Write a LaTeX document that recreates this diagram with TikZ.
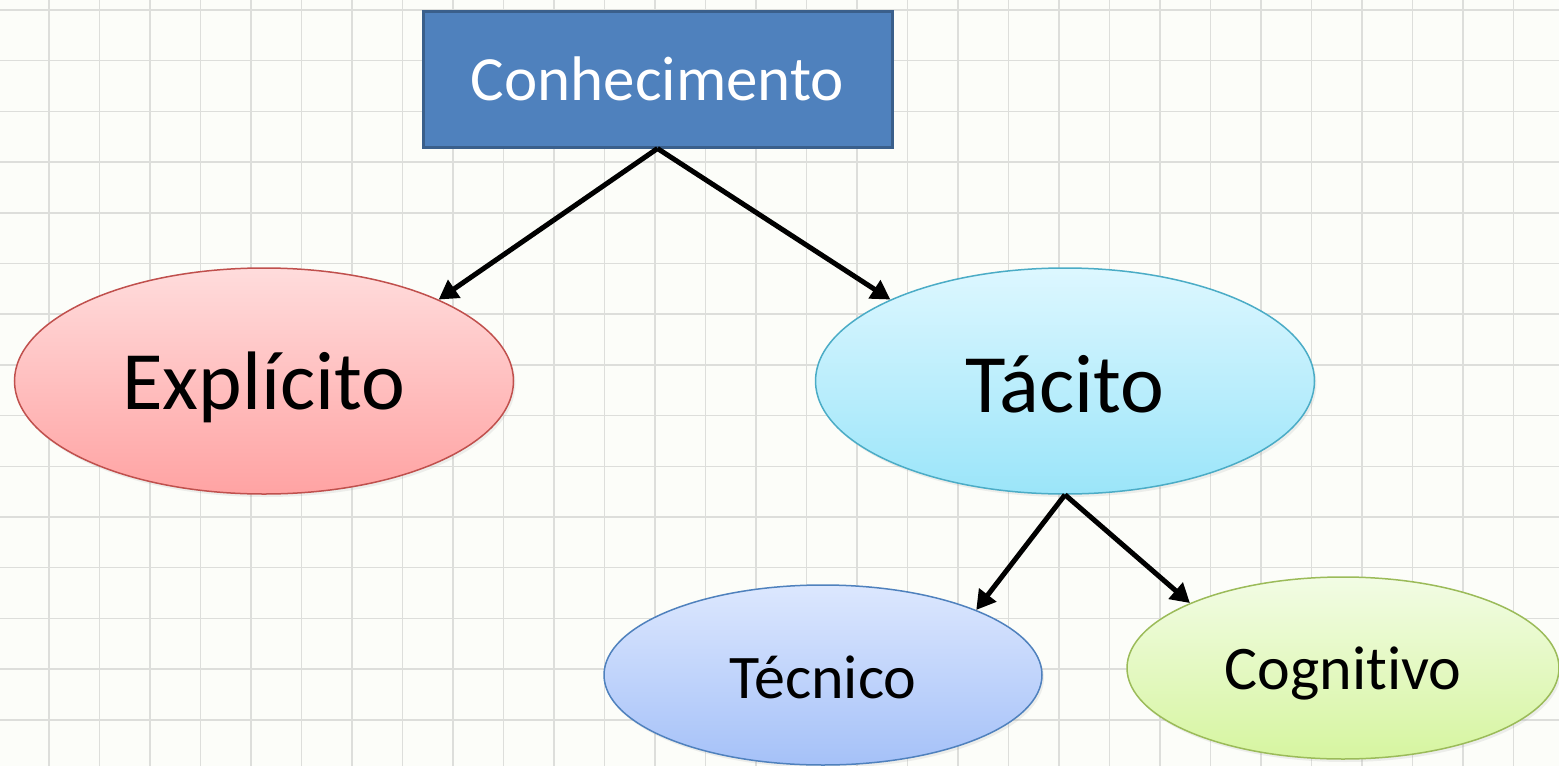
\documentclass[tikz,border=0pt]{standalone}
\usepackage{fontspec}
\setmainfont{Carlito}[Ligatures=NoCommon]
\usepackage{tikz}
\usetikzlibrary{shapes,shadows,arrows.meta}

\definecolor{paper}{HTML}{FCFDF9}
\definecolor{gridline}{HTML}{DDDEDB}
\definecolor{boxblue}{HTML}{4F81BD}
\definecolor{boxedge}{HTML}{3A5F8B}
\definecolor{redtop}{HTML}{FFDCDC}
\definecolor{redbot}{HTML}{FFA3A3}
\definecolor{rededge}{HTML}{C0504D}
\definecolor{cyantop}{HTML}{DDF7FF}
\definecolor{cyanbot}{HTML}{9BE5F9}
\definecolor{cyanedge}{HTML}{4BACC6}
\definecolor{bluetop}{HTML}{DCE7FE}
\definecolor{bluebot}{HTML}{A5C1F8}
\definecolor{blueedge}{HTML}{4F81BD}
\definecolor{greentop}{HTML}{F2FCE4}
\definecolor{greenbot}{HTML}{D6F5A0}
\definecolor{greenedge}{HTML}{9BBB59}

\newcommand{\lowered}[2]{\raisebox{-#1}[\height][\depth]{#2}}

\begin{document}
\begin{tikzpicture}[x=1pt,y=-1pt,
      every node/.style={inner sep=0pt},
      root/.style={rectangle,draw=boxedge,line width=3pt,fill=boxblue,
        minimum width=469pt,minimum height=136pt,text=white,
        font=\fontsize{63}{70}\selectfont},
      kind/.style={ellipse,line width=1.5pt,minimum width=499pt,minimum height=226pt,
        font=\fontsize{83}{90}\selectfont,
        drop shadow={opacity=0.12,shadow xshift=2pt,shadow yshift=-3pt}},
      sub/.style={ellipse,line width=1.5pt,
        font=\fontsize{62}{70}\selectfont,
        drop shadow={opacity=0.12,shadow xshift=2pt,shadow yshift=-3pt}},
      link/.style={-{Triangle[length=19pt,width=21pt]},line width=5pt}]
    % background paper
    \fill[paper] (0,0) rectangle (1559,766);
    \useasboundingbox (0,0) rectangle (1559,766);
    \foreach \i in {0,...,31} {
      \draw[gridline,line width=1.5pt] (\i*50.5-1.5,0) -- (\i*50.5-1.5,766);
    }
    \foreach \j in {0,...,15} {
      \draw[gridline,line width=1.5pt] (0,\j*50.7+10) -- (1559,\j*50.7+10);
    }
    % nodes
    \node[root] (conhecimento) at (657.5,79) {Conhecimento};
    \node[kind,draw=rededge,top color=redtop,bottom color=redbot]
      (explicito) at (264,381) {\lowered{6pt}{Explícito}};
    \node[kind,draw=cyanedge,top color=cyantop,bottom color=cyanbot]
      (tacito) at (1065,381) {\lowered{3pt}{Tácito}};
    \node[sub,draw=blueedge,top color=bluetop,bottom color=bluebot,
      minimum width=438pt,minimum height=180pt] (tecnico) at (823,675) {\lowered{2pt}{Técnico}};
    \node[sub,draw=greenedge,top color=greentop,bottom color=greenbot,
      minimum width=432pt,minimum height=182pt] (cognitivo) at (1343,668) {\lowered{5pt}{Cognitivo}};
    % arrows
    \draw[link] (conhecimento.south) -- (explicito.25);
    \draw[link] (conhecimento.south) -- (tacito.155);
    \draw[link] (tacito.south) -- (tecnico.23);
    \draw[link] (tacito.south) -- (cognitivo.157);
  \end{tikzpicture}
\end{document}
